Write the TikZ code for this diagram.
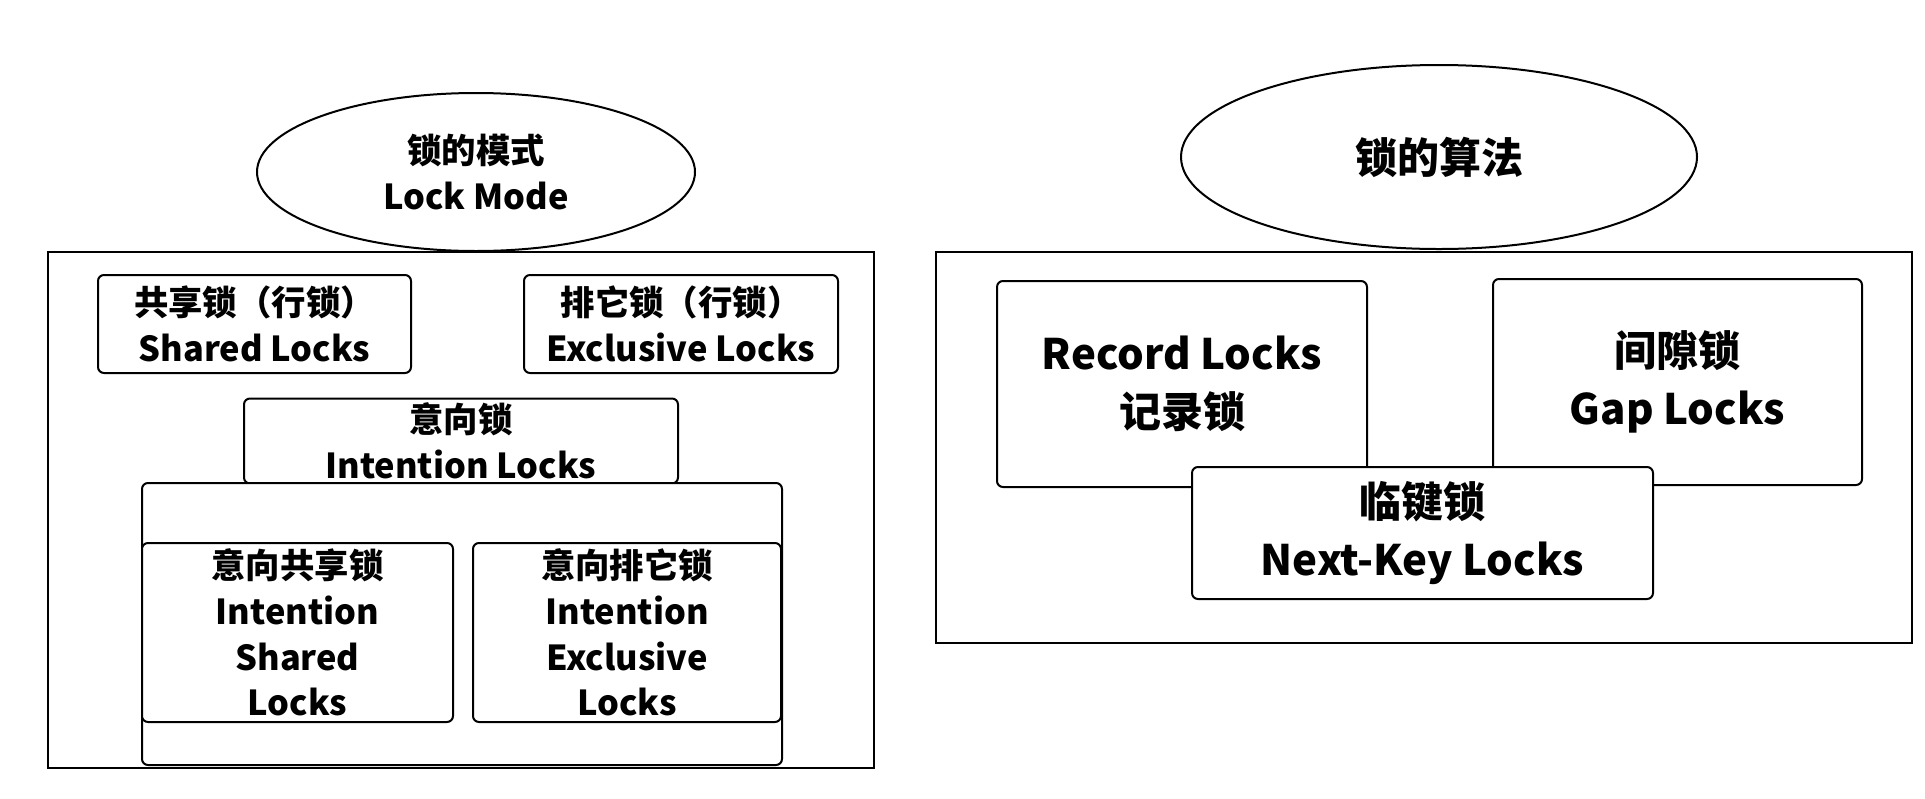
\documentclass[tikz,border=0pt]{standalone}
\usepackage{fontspec}
\setmainfont{Noto Sans CJK SC}
\usetikzlibrary{shapes.geometric}
\tikzset{
  rbox/.style={draw, rounded corners=3pt, fill=white, line width=1pt, inner sep=0pt, align=center, font=\lf},
  sbox/.style={draw, fill=white, line width=1pt, inner sep=0pt},
  oval/.style={draw, ellipse, fill=white, line width=1pt, inner sep=0pt, align=center},
  bigbox/.style={draw, rounded corners=3pt, fill=white, line width=1pt, inner sep=0pt, align=center, font=\rf},
}
\newcommand\lf{\bfseries\fontsize{17.2}{22.8}\selectfont}
\newcommand\rf{\bfseries\fontsize{21}{29}\selectfont}
\begin{document}
\begin{tikzpicture}[x=0.5pt, y=-0.5pt]
\useasboundingbox (0,0) rectangle (1925,798);
% left group
\node[sbox, minimum width=826*0.5pt, minimum height=516*0.5pt] (lout) at (461,510) {};
\node[oval, minimum width=438*0.5pt, minimum height=158*0.5pt, font=\lf] (lmode) at (476,172) {锁的模式\\Lock Mode};
\node[rbox, minimum width=313*0.5pt, minimum height=98*0.5pt] (shared) at (254.5,324) {共享锁（行锁）\\Shared Locks};
\node[rbox, minimum width=314*0.5pt, minimum height=98*0.5pt] (excl) at (681,324) {排它锁（行锁）\\Exclusive Locks};
\node[rbox, minimum width=434*0.5pt, minimum height=85*0.5pt] (intent) at (461,441) {意向锁\\Intention Locks};
\node[rbox, minimum width=640*0.5pt, minimum height=282*0.5pt] (cont) at (462,624) {};
\node[rbox, minimum width=311*0.5pt, minimum height=179*0.5pt] (is) at (297.5,632.5) {意向共享锁\\Intention\\Shared\\Locks};
\node[rbox, minimum width=308*0.5pt, minimum height=179*0.5pt] (ix) at (627,632.5) {意向排它锁\\Intention\\Exclusive\\Locks};
% right group
\node[sbox, minimum width=976*0.5pt, minimum height=391*0.5pt] (rout) at (1424,447.5) {};
\node[oval, minimum width=516*0.5pt, minimum height=184*0.5pt, font=\rf] (ralg) at (1439,157) {锁的算法};
\node[bigbox, minimum width=370*0.5pt, minimum height=206*0.5pt] (rec) at (1182,384) {Record Locks\\记录锁};
\node[bigbox, minimum width=369*0.5pt, minimum height=206*0.5pt] (gap) at (1677.5,382) {间隙锁\\Gap Locks};
\node[bigbox, minimum width=461*0.5pt, minimum height=132*0.5pt] (nk) at (1422.5,533) {临键锁\\Next-Key Locks};
\end{tikzpicture}
\end{document}
